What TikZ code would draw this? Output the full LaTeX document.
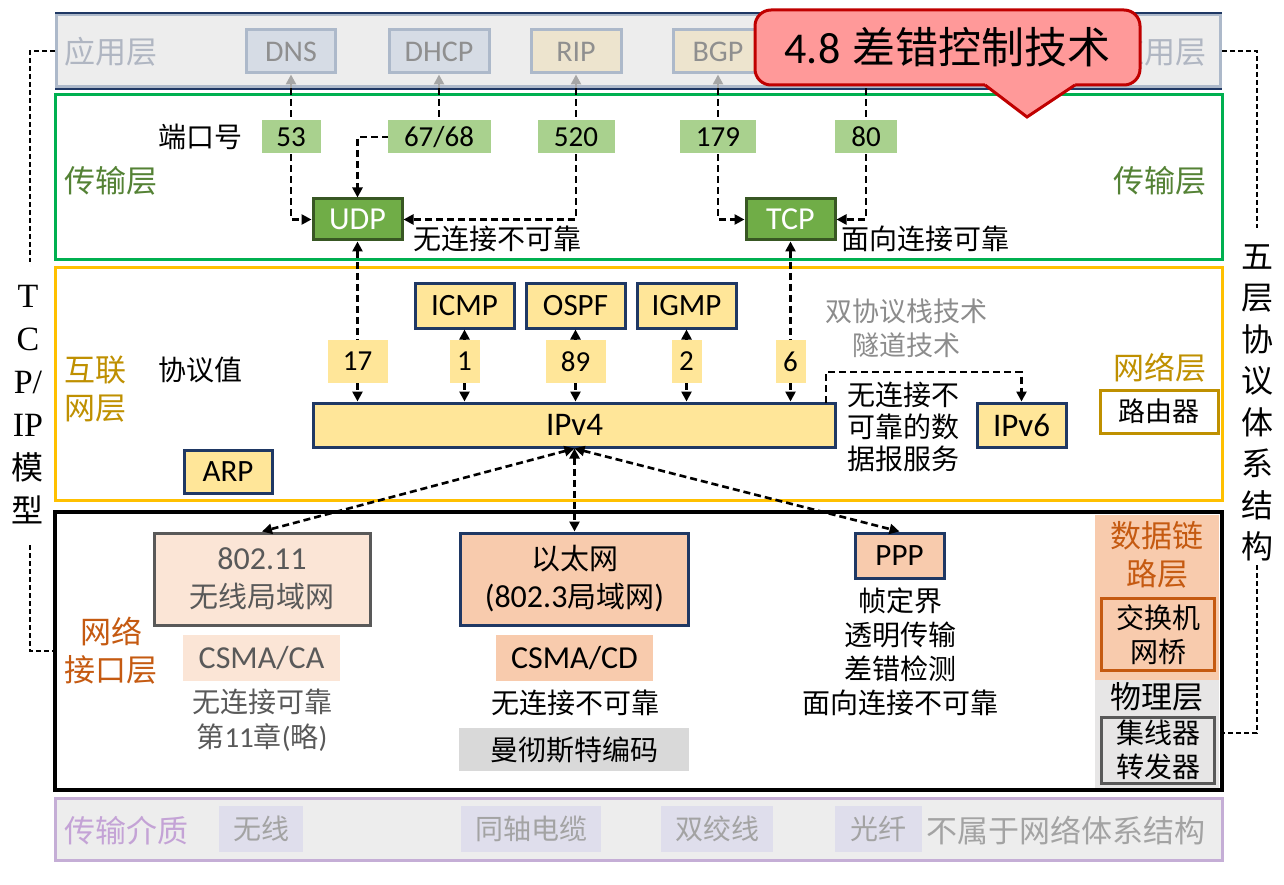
\documentclass[tikz,border=0pt]{standalone}
\usepackage{fontspec}
\setmainfont{Carlito}
\newfontfamily\cjk{Noto Sans CJK SC}
\newfontfamily\ser{Liberation Serif}
\usetikzlibrary{arrows.meta}
\pgfdeclarelayer{fg}
\pgfsetlayers{main,fg}
\newcommand\fsz[2]{\fontsize{#1pt}{#2pt}\selectfont}
\definecolor{navy}{HTML}{1F3864}
\definecolor{appfill}{HTML}{EDEDED}
\definecolor{appbord}{HTML}{ADB9CA}
\definecolor{appt}{HTML}{B0B6C2}
\definecolor{apptxt}{HTML}{8F8F8F}
\definecolor{dnsfill}{HTML}{D6DCE5}
\definecolor{ripfill}{HTML}{EDE4CE}
\definecolor{tgreen}{HTML}{00B050}
\definecolor{trg}{HTML}{548235}
\definecolor{portg}{HTML}{A9D18E}
\definecolor{udpfill}{HTML}{70AD47}
\definecolor{udpbord}{HTML}{385723}
\definecolor{ylw}{HTML}{FFC000}
\definecolor{gold}{HTML}{BF9000}
\definecolor{lyel}{HTML}{FFE699}
\definecolor{ppeach}{HTML}{FBE5D6}
\definecolor{peach}{HTML}{F8CBAD}
\definecolor{orng}{HTML}{C55A11}
\definecolor{dgray}{HTML}{595959}
\definecolor{lgray}{HTML}{D9D9D9}
\definecolor{physfill}{HTML}{E7E6E6}
\definecolor{purp}{HTML}{C5AED6}
\definecolor{purpt}{HTML}{C4A3D6}
\definecolor{medfill}{HTML}{DFDEEC}
\definecolor{medtxt}{HTML}{A3A3A3}
\definecolor{gtxt}{HTML}{8C8C8C}
\definecolor{callfill}{HTML}{FF9999}
\definecolor{dkred}{HTML}{C00000}
\definecolor{tipgray}{HTML}{A6A6A6}
\tikzset{
  appb/.style={draw=appbord, line width=3pt, fill=dnsfill, minimum width=89pt, minimum height=43pt, inner sep=0pt, text=apptxt, font=\fsz{30}{32}},
  portl/.style={fill=portg, minimum height=33pt, inner sep=0pt, font=\fsz{29}{30}},
  greenb/.style={draw=udpbord, fill=udpfill, line width=3pt, text=white, minimum width=89pt, minimum height=41pt, inner sep=0pt, font=\fsz{32}{34}},
  yb/.style={draw=navy, fill=lyel, line width=3pt, minimum width=99pt, minimum height=45pt, inner sep=0pt, font=\fsz{31}{33}},
  yl/.style={fill=lyel, minimum width=30pt, minimum height=43pt, inner sep=0pt, font=\fsz{29}{30}},
  ctext/.style={font=\cjk\fsz{28}{34}, inner sep=0pt, align=center},
  laylbl/.style={font=\cjk\fsz{31}{38}, inner sep=0pt, align=center},
  dl/.style={line width=2.6pt, dash pattern=on 7pt off 4pt},
  dlg/.style={line width=2.6pt, dash pattern=on 7pt off 4pt, draw=tipgray},
  arrE/.style={-{Triangle[length=10pt,width=10pt]}},
  arrB/.style={{Triangle[length=10pt,width=10pt]}-{Triangle[length=10pt,width=10pt]}},
  brk/.style={line width=1.6pt, dash pattern=on 5pt off 3pt},
  medb/.style={fill=medfill, minimum height=46pt, inner sep=0pt, text=medtxt, font=\cjk\fsz{28}{30}},
}
\begin{document}
\begin{tikzpicture}[x=1pt,y=-1pt]
\useasboundingbox[fill=white] (0,0) rectangle (1284,885);

% ---------- layer bands ----------
\node[draw=appbord, line width=3pt, fill=appfill, minimum width=1164pt, minimum height=72pt, inner sep=0pt] (app) at (638.5,51) {};
\draw[navy, line width=2pt] (55,13) -- (1222,13);
\draw[navy, line width=2pt] (55,89) -- (1222,89);
\node[draw=tgreen, line width=3pt, minimum width=1167pt, minimum height=165pt, inner sep=0pt] (trans) at (638.5,177.5) {};
\node[draw=ylw, line width=3pt, minimum width=1167pt, minimum height=233pt, inner sep=0pt] (net) at (638.5,383.5) {};
\fill[peach] (1095,515) rectangle (1219,680);
\fill[physfill] (1095,680) rectangle (1219,788);
\node[draw=black, line width=4pt, minimum width=1167pt, minimum height=278pt, inner sep=0pt] (link) at (638.5,651) {};
\node[draw=purp, line width=3pt, fill=appfill, minimum width=1167pt, minimum height=62pt, inner sep=0pt] (med) at (638.5,829) {};

% ---------- side texts and brackets ----------
\node[font=\fsz{34}{43}, align=center, inner sep=0pt] (tcpip) at (28,405) {{\ser T}\\{\ser C}\\{\ser P/}\\{\ser IP}\\{\cjk\fsz{32}{43}模}\\{\cjk\fsz{32}{43}型}};
\node[font=\cjk\fsz{32}{41.5}, align=center, inner sep=0pt] (five) at (1257,403) {五\\层\\协\\议\\体\\系\\结\\构};
\coordinate (lt) at (30,262);
\coordinate (lb) at (30,545);
\coordinate (rt) at (1257,228);
\coordinate (rb) at (1257,565);
\coordinate (rend) at (1222,733);
\draw[brk] (app.west) -| (lt);
\draw[brk] (lb) |- (link.west);
\draw[brk] (app.east) -| (rt);
\draw[brk] (rb) |- (rend);

% ---------- application layer ----------
\node[laylbl, text=appt, anchor=west] (applL) at (64,52) {应用层};
\node[laylbl, text=appt, anchor=east] (applR) at (1207,52) {应用层};
\node[appb] (dns) at (291,51.5) {DNS};
\node[appb, minimum width=100pt] (dhcp) at (439,51.5) {DHCP};
\node[appb, fill=ripfill, minimum width=90pt] (rip) at (576,51.5) {RIP};
\node[appb, fill=ripfill] (bgp) at (718,51.5) {BGP};

% ---------- transport layer ----------
\node[laylbl, text=trg, anchor=west] (trL) at (64,181) {传输层};
\node[laylbl, text=trg, anchor=east] (trR) at (1207,181) {传输层};
\node[ctext, anchor=east] (portn) at (243,137) {端口号};
\node[greenb] (udp) at (357.5,219.5) {UDP};
\node[greenb] (tcp) at (790.5,219.5) {TCP};
\node[ctext, anchor=west] (udpd) at (413,239) {无连接不可靠};
\node[ctext, anchor=west] (tcpd) at (841,239) {面向连接可靠};
\begin{pgfonlayer}{fg}
\node[portl, minimum width=59pt] (p53) at (291,137) {53};
\node[portl, minimum width=103pt] (p67) at (439,137) {67/68};
\node[portl, minimum width=77pt] (p520) at (576,137) {520};
\node[portl, minimum width=76pt] (p179) at (718,137) {179};
\node[portl, minimum width=62pt] (p80) at (866,137) {80};
\end{pgfonlayer}
\draw[dl, arrE] (p53 |- app.south) -- (p53 |- udp.west) -- (udp.west);
\draw[dl, arrE] (p67 |- app.south) -- (p67.center) -- (p67.center -| udp.north) -- (udp.north);
\draw[dl, arrE] (p520 |- app.south) -- (p520 |- udp.east) -- (udp.east);
\draw[dl, arrE] (p179 |- app.south) -- (p179 |- tcp.west) -- (tcp.west);
\draw[dl, arrE] (p80 |- app.south) -- (p80 |- tcp.east) -- (tcp.east);
\draw[dlg, -{Triangle[length=10pt,width=10pt,color=tipgray]}] (p53 |- app.south) -- (dns.south);
\draw[dlg, -{Triangle[length=10pt,width=10pt,color=tipgray]}] (p67 |- app.south) -- (dhcp.south);
\draw[dlg, -{Triangle[length=10pt,width=10pt,color=tipgray]}] (p520 |- app.south) -- (rip.south);
\draw[dlg, -{Triangle[length=10pt,width=10pt,color=tipgray]}] (p179 |- app.south) -- (bgp.south);

% ---------- network layer ----------
\node[laylbl, text=gold, align=left, anchor=west] (netL) at (64,389) {互联\\网层};
\node[ctext, anchor=east] (protov) at (243,370) {协议值};
\node[yb] (icmp) at (464.5,305.5) {ICMP};
\node[yb] (ospf) at (575.5,305.5) {OSPF};
\node[yb] (igmp) at (686.5,305.5) {IGMP};
\node[yb, minimum width=522pt, minimum height=44pt, font=\fsz{33}{34}] (ipv4) at (574.5,425) {IPv4};
\node[yb, minimum width=89pt, minimum height=44pt, font=\fsz{33}{34}] (ipv6) at (1021.5,425) {IPv6};
\node[yb, minimum width=88pt, minimum height=43pt] (arp) at (228,471.5) {ARP};
\node[ctext, text=gtxt, font=\cjk\fsz{27}{34}] (dual) at (906,328) {双协议栈技术\\隧道技术};
\node[ctext, align=left, anchor=west, font=\cjk\fsz{28}{32}] (dgram) at (847,427) {无连接不\\可靠的数\\据报服务};
\node[laylbl, text=gold, anchor=east] (netR) at (1207,368) {网络层};
\node[draw=gold, line width=3pt, fill=white, minimum width=118pt, minimum height=43pt, inner sep=0pt, font=\cjk\fsz{27}{30}] (router) at (1159,411.5) {路由器};
\begin{pgfonlayer}{fg}
\node[yl, minimum width=60pt] (n17) at (357.5,361.5) {17};
\node[yl] (n1) at (464.5,361.5) {1};
\node[yl, minimum width=60pt] (n89) at (575.5,361.5) {89};
\node[yl] (n2) at (686.5,361.5) {2};
\node[yl] (n6) at (790.5,361.5) {6};
\end{pgfonlayer}
\draw[dl, arrB] (udp.south) -- (udp.south |- ipv4.north);
\draw[dl, arrB] (tcp.south) -- (tcp.south |- ipv4.north);
\draw[dl, arrB] (icmp.south) -- (icmp.south |- ipv4.north);
\draw[dl, arrB] (ospf.south) -- (ospf.south |- ipv4.north);
\draw[dl, arrB] (igmp.south) -- (igmp.south |- ipv4.north);
\coordinate (v4r) at (826,403);
\draw[dl, arrE] (v4r) -- ++(0,-31) -| (ipv6.north);

% ---------- network interface layer ----------
\node[laylbl, text=orng] (nifL) at (111,651) {网络\\接口层};
\node[draw=dgray, fill=ppeach, line width=3pt, minimum width=216pt, minimum height=92pt, inner sep=0pt, text=dgray, align=center, font=\cjk\fsz{29}{38}] (wlan) at (262,579) {{\rmfamily\fsz{32}{38}802.11}\\无线局域网};
\node[fill=ppeach, minimum width=157pt, minimum height=46pt, inner sep=0pt, text=dgray, font=\fsz{32}{33}] (csca) at (261.5,658) {CSMA/CA};
\node[ctext, text=dgray, font=\cjk\fsz{28}{35}] (wlnote) at (262,720) {无连接可靠\\第{\rmfamily\fsz{29}{35}11}章{\rmfamily\fsz{29}{35}(}略{\rmfamily\fsz{29}{35})}};
\node[draw=navy, fill=peach, line width=3pt, minimum width=228pt, minimum height=92pt, inner sep=0pt, align=center, font=\cjk\fsz{29}{38}] (eth) at (574.5,579) {以太网\\{\rmfamily\fsz{32}{38}(802.3}局域网{\rmfamily\fsz{32}{38})}};
\node[fill=peach, minimum width=157pt, minimum height=46pt, inner sep=0pt, font=\fsz{32}{33}] (cscd) at (574.5,658) {CSMA/CD};
\node[ctext] (ethnote) at (575,703) {无连接不可靠};
\node[fill=lgray, minimum width=230pt, minimum height=43pt, inner sep=0pt, font=\cjk\fsz{28}{30}] (manch) at (574,749.5) {曼彻斯特编码};
\node[draw=navy, fill=peach, line width=3pt, minimum width=89pt, minimum height=45pt, inner sep=0pt, font=\fsz{31}{32}] (ppp) at (899.5,555.5) {PPP};
\node[ctext, font=\cjk\fsz{28}{34}] (pppnote) at (900,652) {帧定界\\透明传输\\差错检测\\面向连接不可靠};
\draw[dl, arrB] (ipv4.south) -- (wlan.north);
\draw[dl, arrB] (ipv4.south) -- (eth.north);
\draw[dl, arrB] (ipv4.south) -- (ppp.north);
\node[laylbl, text=orng, font=\cjk\fsz{31}{38}] (dll) at (1157,555) {数据链\\路层};
\node[draw=orng, line width=3pt, minimum width=113pt, minimum height=72pt, inner sep=0pt, align=center, font=\cjk\fsz{28}{34}] (switch) at (1158,634.5) {交换机\\网桥};
\node[ctext, font=\cjk\fsz{31}{32}] (phys) at (1157,697) {物理层};
\node[draw=dgray, line width=3pt, minimum width=113pt, minimum height=66pt, inner sep=0pt, align=center, font=\cjk\fsz{28}{34}] (hub) at (1158,750) {集线器\\转发器};

% ---------- transmission medium ----------
\node[laylbl, text=purpt, anchor=west] (medL) at (64,831) {传输介质};
\node[medb, minimum width=84pt] (wl) at (261,829) {无线};
\node[medb, minimum width=140pt] (coax) at (531,829) {同轴电缆};
\node[medb, minimum width=112pt] (tp) at (717,829) {双绞线};
\node[medb, minimum width=87pt] (fiber) at (878.5,829) {光纤};
\node[ctext, text=medtxt, anchor=west, font=\cjk\fsz{31}{32}] (notarch) at (926,831) {不属于网络体系结构};

% ---------- title callout ----------
\node[draw=dkred, fill=callfill, line width=3pt, rounded corners=16pt, minimum width=385pt, minimum height=75pt, inner sep=0pt] (title) at (947.5,47.5) {{\fsz{44}{48}4.8}\hspace{12pt}{\cjk\fsz{43}{48}差错控制技术}};
\fill[callfill] (985,83) -- (1075,83) -- (1075,85) -- (1027,117) -- (985,85) -- cycle;
\draw[dkred, line width=3pt, line join=miter] (985,85) -- (1027,117) -- (1075,85);
\end{tikzpicture}
\end{document}
